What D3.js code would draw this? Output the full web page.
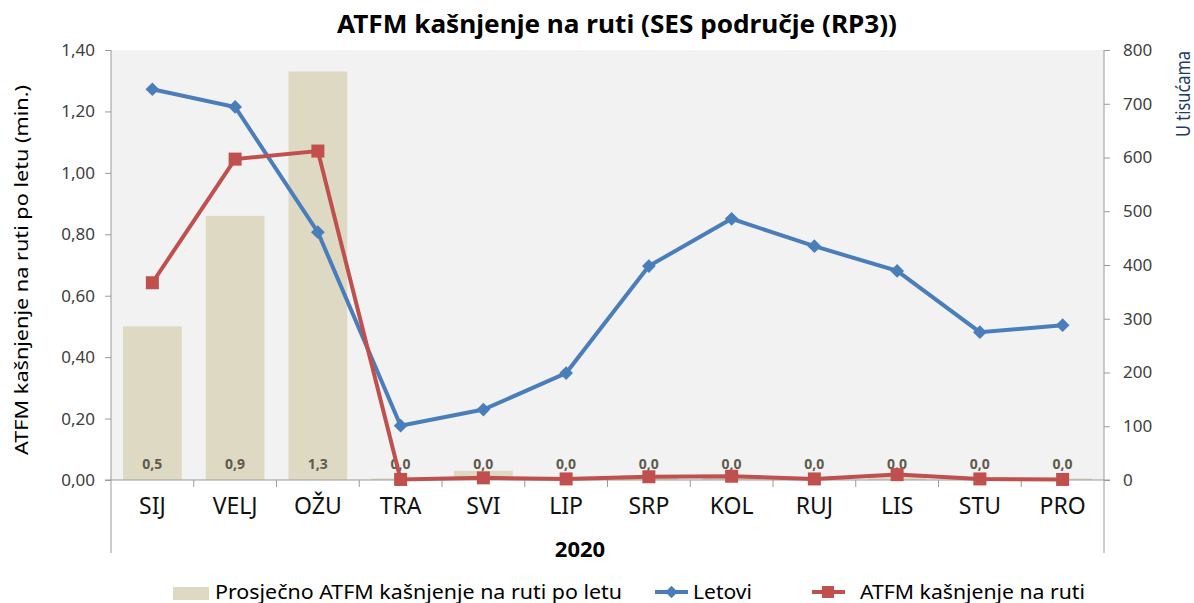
<!DOCTYPE html>
<html lang="hr">
<head>
    <meta charset="UTF-8">
    <title>ATFM kašnjenje</title>
    <script src="https://cdn.jsdelivr.net/npm/d3@7"></script>
    <style>
        body { margin: 0; background: #fff; }
        svg { font-family: "Noto Sans", sans-serif; display: block; }
    </style>
</head>
<body>

<svg width="1194" height="603"></svg>

<script>

    // podaci
    var months = ["SIJ", "VELJ", "OŽU", "TRA", "SVI", "LIP", "SRP", "KOL", "RUJ", "LIS", "STU", "PRO"];
    var avgDelay = [0.50, 0.86, 1.33, 0.005, 0.03, 0.01, 0.015, 0.015, 0.005, 0.02, 0.01, 0.005];
    var flights = [727, 694, 461, 101, 131, 199, 398, 486, 435, 389, 275, 288];
    var delay = [367, 597, 612, 1, 4, 2, 6, 7, 2, 10, 2, 1];
    var leftTicks = [0, 0.2, 0.4, 0.6, 0.8, 1.0, 1.2, 1.4];
    var rightTicks = [0, 100, 200, 300, 400, 500, 600, 700, 800];

    var svg = d3.select("svg");
    var pLeft = 111, pRight = 1104, pTop = 50, pBottom = 480;

    var comma = function (f) {
        return function (v) { return d3.format(f)(v).replace(".", ","); };
    };

    var x = d3.scaleBand().domain(months).range([pLeft, pRight])
        .paddingInner(0.29).paddingOuter(0.145);
    var yL = d3.scaleLinear().domain([0, 1.4]).range([pBottom, pTop]);
    var yR = d3.scaleLinear().domain([0, 800]).range([pBottom, pTop]);
    var cx = function (m) { return x(m) + x.bandwidth() / 2; };

    // naslov
    svg.append("text")
        .attr("x", 617).attr("y", 33)
        .attr("text-anchor", "middle")
        .attr("font-size", 25).attr("font-weight", "bold")
        .attr("textLength", 560).attr("lengthAdjust", "spacingAndGlyphs")
        .text("ATFM kašnjenje na ruti (SES područje (RP3))");

    // pozadina
    svg.append("rect")
        .attr("x", pLeft).attr("y", pTop)
        .attr("width", pRight - pLeft).attr("height", pBottom - pTop)
        .attr("fill", "#f2f2f2");

    // stupci
    svg.append("g").selectAll("rect")
        .data(months)
        .enter().append("rect")
        .attr("x", function (d) { return x(d); })
        .attr("y", function (d, i) { return yL(avgDelay[i]); })
        .attr("width", x.bandwidth())
        .attr("height", function (d, i) { return pBottom - yL(avgDelay[i]); })
        .attr("fill", "#ddd9c3");

    // osi
    var axisColor = "#9a9a9a";
    svg.append("line").attr("x1", pLeft).attr("x2", pLeft).attr("y1", pTop).attr("y2", 553)
        .attr("stroke", axisColor);
    svg.append("line").attr("x1", pRight).attr("x2", pRight).attr("y1", pTop).attr("y2", 553)
        .attr("stroke", axisColor);
    svg.append("line").attr("x1", pLeft - 6).attr("x2", pRight + 6).attr("y1", pBottom).attr("y2", pBottom)
        .attr("stroke", axisColor);

    var gL = svg.append("g")
        .attr("transform", "translate(" + pLeft + ",0)")
        .call(d3.axisLeft(yL).tickValues(leftTicks).tickFormat(comma(".2f")).tickSize(6).tickPadding(10));
    var gR = svg.append("g")
        .attr("transform", "translate(" + pRight + ",0)")
        .call(d3.axisRight(yR).tickValues(rightTicks).tickSize(6).tickPadding(13));
    [gL, gR].forEach(function (g) {
        g.select(".domain").remove();
        g.selectAll(".tick line").attr("stroke", axisColor);
        g.selectAll(".tick text").attr("font-size", 17).attr("fill", "#404040")
            .attr("font-family", "Noto Sans, sans-serif");
    });

    // crtice izmedju mjeseci
    svg.append("g").selectAll("line")
        .data(months.slice(1))
        .enter().append("line")
        .attr("x1", function (d) { return x(d) - x.step() * x.paddingInner() / 2; })
        .attr("x2", function (d) { return x(d) - x.step() * x.paddingInner() / 2; })
        .attr("y1", pBottom).attr("y2", pBottom + 7)
        .attr("stroke", axisColor);

    var gX = svg.append("g")
        .attr("transform", "translate(0," + pBottom + ")")
        .call(d3.axisBottom(x).tickSize(0).tickPadding(12));
    gX.select(".domain").remove();
    gX.selectAll(".tick text").attr("font-size", 23).attr("fill", "#111")
        .attr("dy", "0.71em").attr("y", 18)
        .attr("font-family", "Noto Sans, sans-serif");

    // oznake stupaca
    svg.append("g").selectAll("text")
        .data(months)
        .enter().append("text")
        .attr("x", function (d) { return cx(d); })
        .attr("y", 469)
        .attr("text-anchor", "middle")
        .attr("font-size", 14).attr("font-weight", "bold")
        .attr("fill", "#5e5b4c")
        .text(function (d, i) { return comma(".1f")(avgDelay[i]); });

    // linije
    var line = function (vals) {
        return d3.line()
            .x(function (d) { return cx(d); })
            .y(function (d, i) { return yR(vals[i]); })(months);
    };
    var blue = "#4a7ebb", red = "#c0504d";

    svg.append("path").attr("d", line(flights))
        .attr("fill", "none").attr("stroke", blue).attr("stroke-width", 4);
    svg.append("g").selectAll("path")
        .data(months)
        .enter().append("path")
        .attr("d", d3.symbol(d3.symbolDiamond2, 120))
        .attr("transform", function (d, i) { return "translate(" + cx(d) + "," + yR(flights[i]) + ")"; })
        .attr("fill", blue);

    svg.append("path").attr("d", line(delay))
        .attr("fill", "none").attr("stroke", red).attr("stroke-width", 4);
    svg.append("g").selectAll("rect")
        .data(months)
        .enter().append("rect")
        .attr("x", function (d) { return cx(d) - 6.5; })
        .attr("y", function (d, i) { return yR(delay[i]) - 6.5; })
        .attr("width", 13).attr("height", 13)
        .attr("fill", red);

    // naslovi osi
    svg.append("text")
        .attr("transform", "translate(28,270) rotate(-90)")
        .attr("text-anchor", "middle")
        .attr("font-size", 18)
        .attr("textLength", 370).attr("lengthAdjust", "spacingAndGlyphs")
        .text("ATFM kašnjenje na ruti po letu (min.)");
    svg.append("text")
        .attr("transform", "translate(1190,51) rotate(-90)")
        .attr("text-anchor", "end")
        .attr("font-size", 19).attr("fill", "#1f3c6a")
        .attr("textLength", 86).attr("lengthAdjust", "spacingAndGlyphs")
        .text("U tisućama");

    svg.append("text")
        .attr("x", 580).attr("y", 557)
        .attr("text-anchor", "middle")
        .attr("font-size", 22).attr("font-weight", "bold")
        .text("2020");

    // legenda
    var lg = svg.append("g").attr("font-size", 19);
    lg.append("rect").attr("x", 173).attr("y", 587).attr("width", 36).attr("height", 13)
        .attr("fill", "#ddd9c3");
    lg.append("text").attr("x", 215).attr("y", 599)
        .attr("textLength", 407).attr("lengthAdjust", "spacingAndGlyphs")
        .text("Prosječno ATFM kašnjenje na ruti po letu");

    lg.append("line").attr("x1", 655).attr("x2", 688).attr("y1", 592).attr("y2", 592)
        .attr("stroke", blue).attr("stroke-width", 4);
    lg.append("path").attr("d", d3.symbol(d3.symbolDiamond2, 100))
        .attr("transform", "translate(671.5,592)").attr("fill", blue);
    lg.append("text").attr("x", 693).attr("y", 599)
        .attr("textLength", 59).attr("lengthAdjust", "spacingAndGlyphs")
        .text("Letovi");

    lg.append("line").attr("x1", 812).attr("x2", 845).attr("y1", 592).attr("y2", 592)
        .attr("stroke", red).attr("stroke-width", 4);
    lg.append("rect").attr("x", 822).attr("y", 586).attr("width", 12).attr("height", 12)
        .attr("fill", red);
    lg.append("text").attr("x", 860).attr("y", 599)
        .attr("textLength", 225).attr("lengthAdjust", "spacingAndGlyphs")
        .text("ATFM kašnjenje na ruti");

</script>

</body>
</html>
